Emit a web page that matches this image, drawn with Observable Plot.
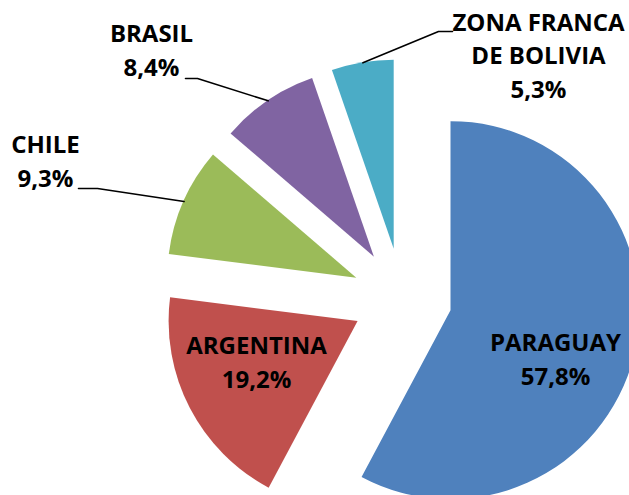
<!DOCTYPE html>
<html><head><meta charset="utf-8">
<script src="https://cdn.jsdelivr.net/npm/d3@7"></script>
<script src="https://cdn.jsdelivr.net/npm/@observablehq/plot@0.6"></script>
<style>body{margin:0;background:#fff}#chart{width:629px;height:495px;overflow:hidden}</style>
</head><body><div id="chart"></div>
<script>
// ---- data ----
const countries = ["PARAGUAY", "ARGENTINA", "CHILE", "BRASIL", "ZONA FRANCA\nDE BOLIVIA"];
const shares = [57.8, 19.2, 9.3, 8.4, 5.3];
const colors = ["#4F81BD", "#C0504D", "#9BBB59", "#8064A2", "#4BACC6"];

// ---- layout ----
const W = 629, H = 495, CX = 402, CY = 298, R = 189, EXPLODE = 50;
// label centres relative to the pie centre (y up)
const labelPos = [[153, -59], [-146, -62], [-357, 139.5], [-251, 250], [136, 245]];
// leader lines: bend point and end point near label (y up), null = inside label
const leaders = [null, null, [[-305, 110], [-324, 110]], [[-205, 220], [-217, 220]], [[36, 267], [50, 267]]];

const slices = d3.pie().sort(null).value(d => d.share)(
  countries.map((name, i) => ({name, share: shares[i], color: colors[i]}))
);
slices.forEach(s => {
  s.mid = (s.startAngle + s.endAngle) / 2;
  s.ox = EXPLODE * Math.sin(s.mid);
  s.oy = EXPLODE * Math.cos(s.mid);
});

const labels = slices.map((s, i) => ({
  text: s.data.name + "\n" + s.data.share.toFixed(1).replace(".", ",") + "%",
  x: labelPos[i][0], y: labelPos[i][1]
}));

const leaderPts = [];
slices.forEach((s, i) => {
  if (!leaders[i]) return;
  leaderPts.push({k: i, x: s.ox + R * Math.sin(s.mid), y: s.oy + R * Math.cos(s.mid)});
  leaders[i].forEach(p => leaderPts.push({k: i, x: p[0], y: p[1]}));
});

function pieMark(index, scales) {
  const g = d3.create("svg:g");
  const rpx = Math.abs(scales.x(R) - scales.x(0));
  const arc = d3.arc().innerRadius(0).outerRadius(rpx);
  g.selectAll("path").data(slices).join("path")
    .attr("transform", s => `translate(${scales.x(s.ox)},${scales.y(s.oy)})`)
    .attr("d", arc)
    .attr("fill", s => s.data.color);
  return g.node();
}

const chart = Plot.plot({
  width: W, height: H, margin: 0,
  x: {domain: [-CX, W - CX], range: [0, W], axis: null},
  y: {domain: [CY - H, CY], range: [H, 0], axis: null},
  style: {fontFamily: "'Open Sans', sans-serif", background: "#fff"},
  marks: [
    pieMark,
    Plot.line(leaderPts, {x: "x", y: "y", z: "k", stroke: "#000", strokeWidth: 1.6}),
    Plot.text(labels, {x: "x", y: "y", text: "text", fontSize: 24, fontWeight: "bold",
      fill: "#000", lineHeight: 1.4, textAnchor: "middle"})
  ]
});
document.getElementById("chart").append(chart);
</script>
</body></html>
